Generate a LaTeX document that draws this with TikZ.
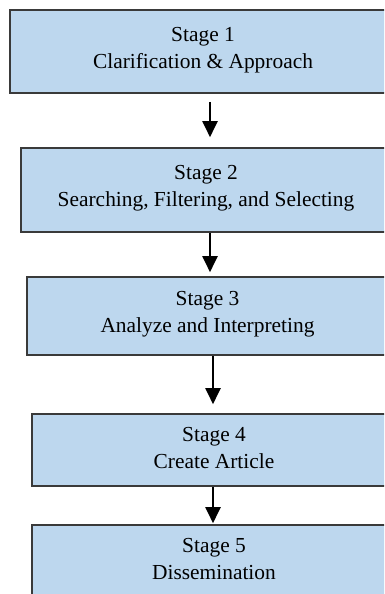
\documentclass[tikz,border=0pt]{standalone}
\usepackage{fontspec}
\setmainfont{Liberation Serif}
\usetikzlibrary{arrows.meta,positioning,calc}
\definecolor{stagefill}{HTML}{BDD7EE}
\definecolor{stageedge}{HTML}{3A3A3A}

\begin{document}
\begin{tikzpicture}[x=1pt,y=-1pt,
  stagebox/.style={draw=stageedge,fill=stagefill,line width=1.6pt,inner sep=0pt},
  stagetext/.style={align=center,inner sep=0pt,font=\fontsize{21.4}{27}\selectfont},
  flow/.style={-{Triangle[length=16pt,width=15pt]},line width=2pt,black}]
\clip (0,0) rectangle (384,594);
\useasboundingbox (0,0) rectangle (384,594);
% the five stages (boxes run off the right edge)
\node[stagebox,minimum width=390pt,minimum height=83pt] (s1) at (205,51.5) {};
\node[stagebox,minimum width=379pt,minimum height=84pt] (s2) at (210.5,190) {};
\node[stagebox,minimum width=373pt,minimum height=78pt] (s3) at (213.5,316) {};
\node[stagebox,minimum width=368pt,minimum height=72pt] (s4) at (216,450) {};
\node[stagebox,minimum width=368pt,minimum height=72pt] (s5) at (216,561) {};
\node[stagetext] (t1) at (203,50) {Stage 1\\Clarification \& Approach};
\node[stagetext] (t2) at (206,188.5) {Stage 2\\Searching, Filtering, and Selecting};
\node[stagetext] (t3) at (207.5,314.5) {Stage 3\\Analyze and Interpreting};
\node[stagetext] (t4) at (214,448.5) {Stage 4\\Create Article};
\node[stagetext] (t5) at (214,559.5) {Stage 5\\Dissemination};
% arrows between stages
\draw[flow,shorten <=8pt,shorten >=10pt] ([xshift=5pt]s1.south) -- ([xshift=5pt]s1.south |- s2.north);
\draw[flow,shorten >=4pt] ([xshift=-0.5pt]s2.south) -- ([xshift=-0.5pt]s2.south |- s3.north);
\draw[flow,shorten >=9pt] ([xshift=-0.5pt]s3.south) -- ([xshift=-0.5pt]s3.south |- s4.north);
\draw[flow,shorten >=1pt] ([xshift=-3pt]s4.south) -- ([xshift=-3pt]s4.south |- s5.north);
\end{tikzpicture}
\end{document}
